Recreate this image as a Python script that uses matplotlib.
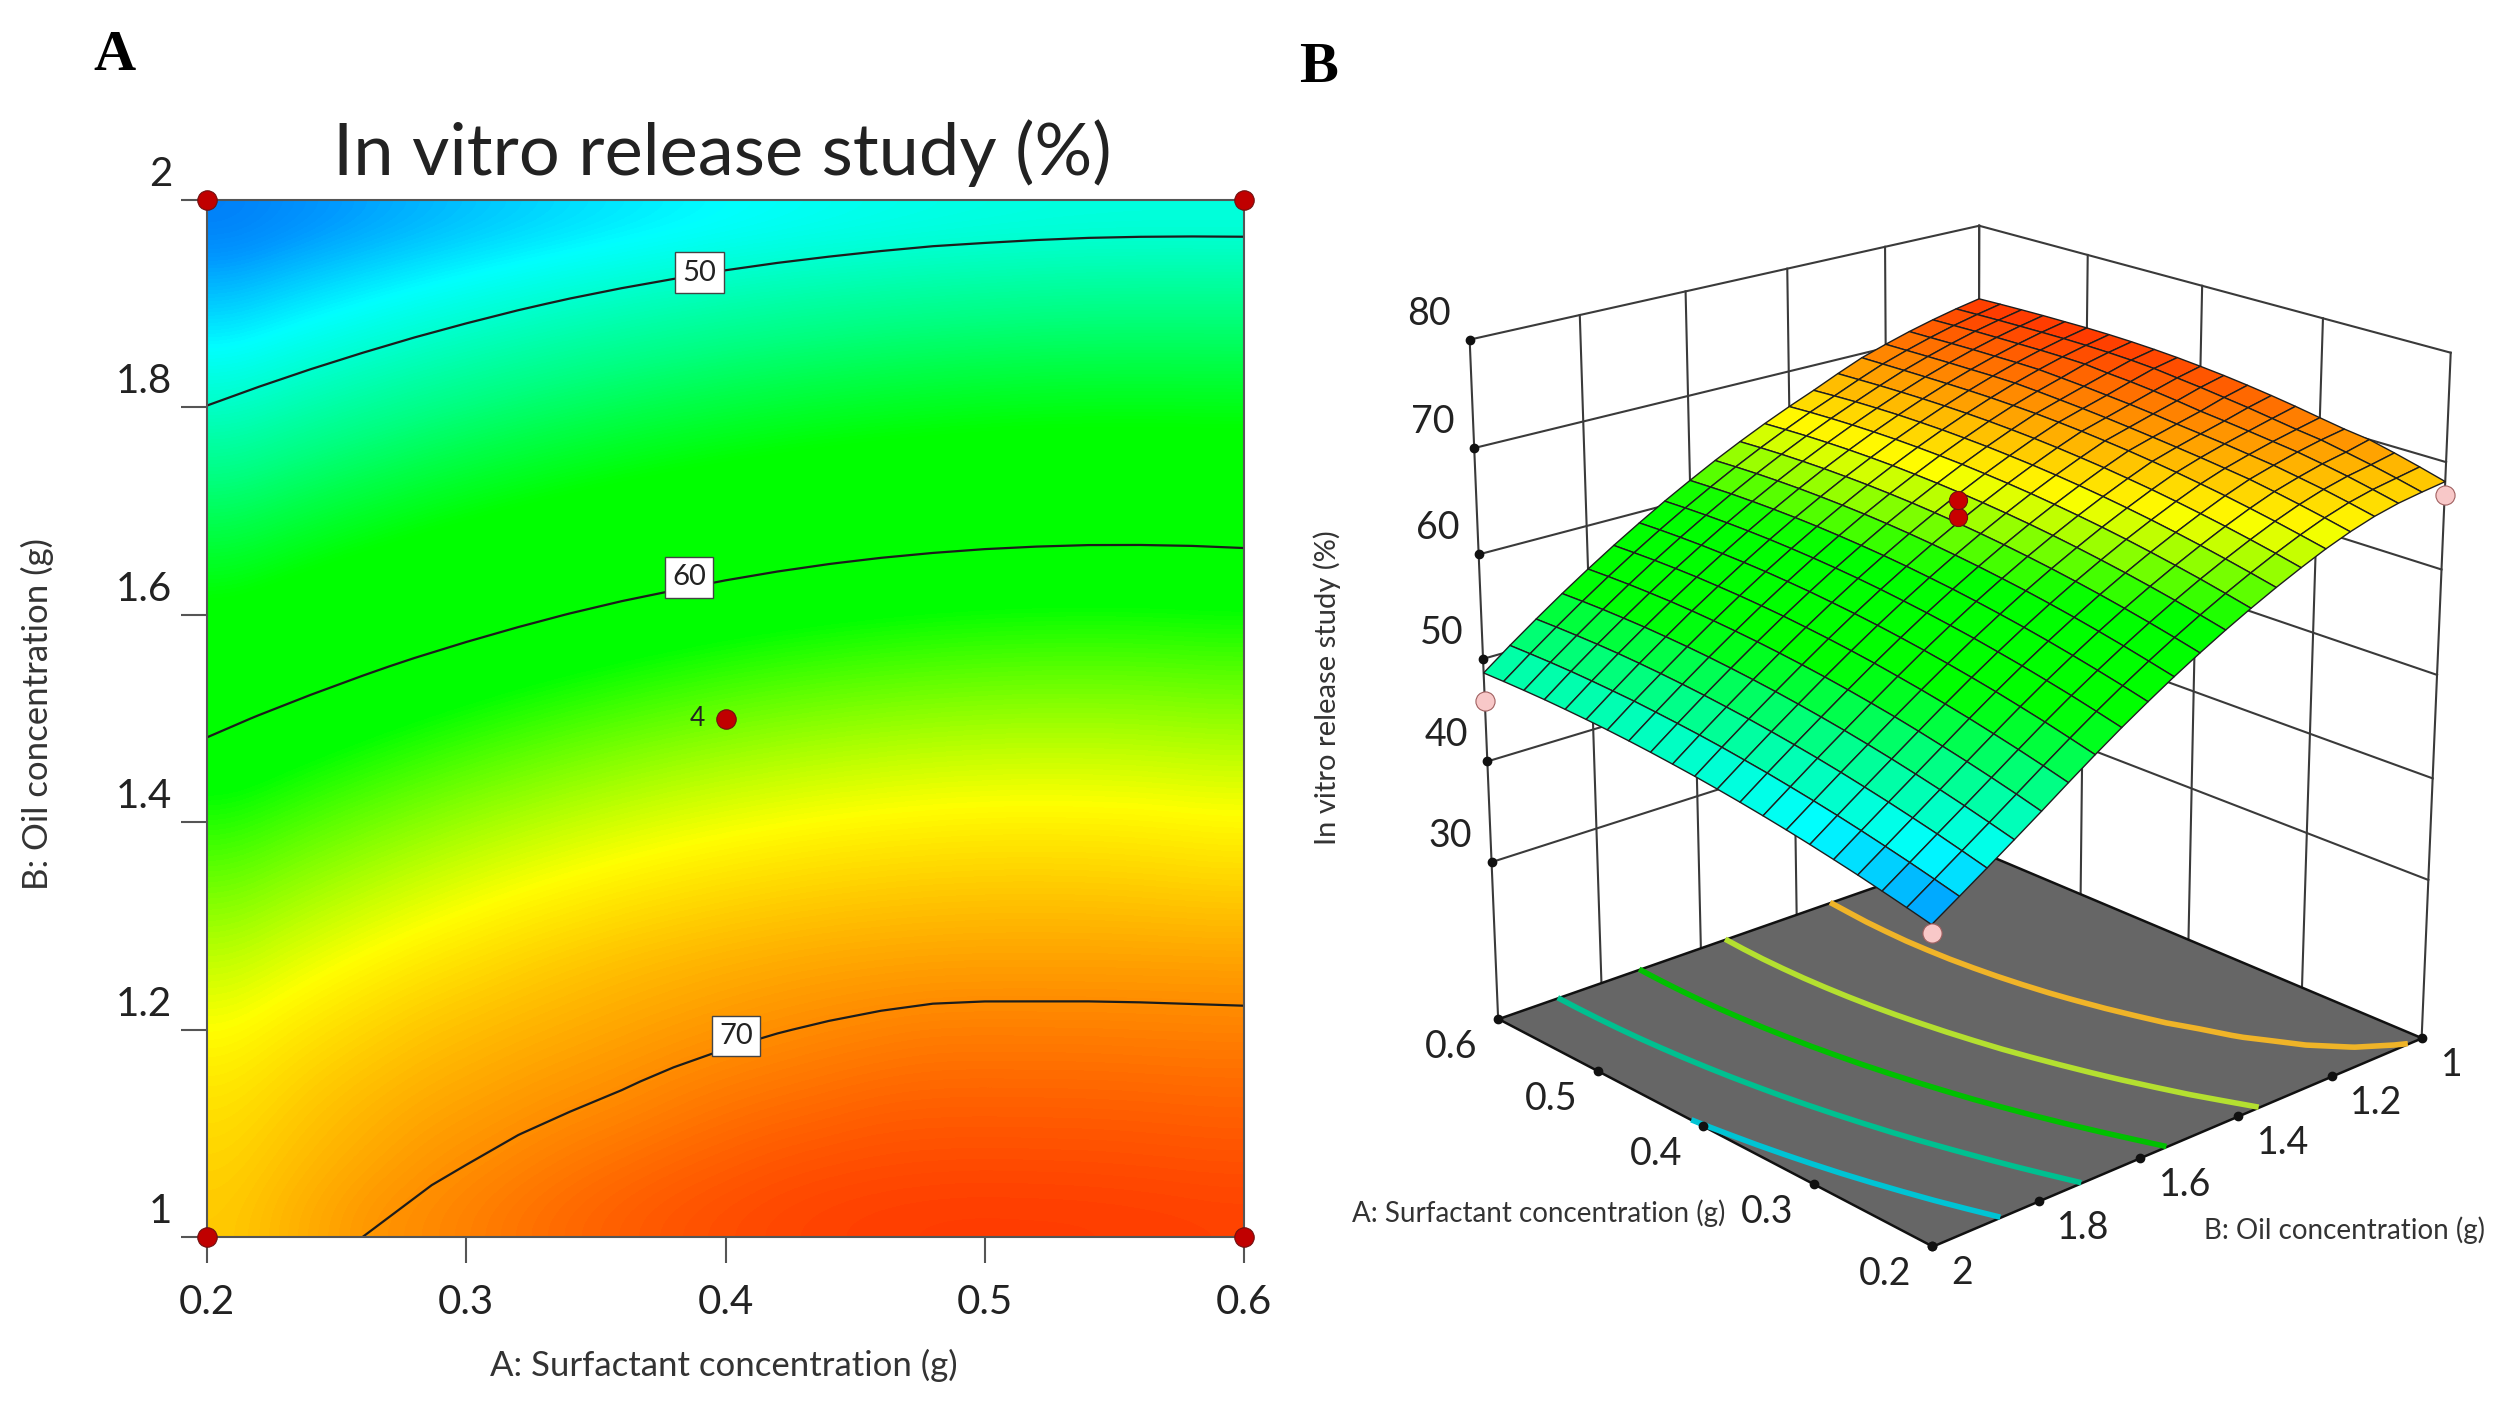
import numpy as np
import matplotlib
matplotlib.use('Agg')
import matplotlib.pyplot as plt
from matplotlib.colors import LinearSegmentedColormap, Normalize
from matplotlib.transforms import ScaledTranslation
from mpl_toolkits.mplot3d import proj3d
from mpl_toolkits.mplot3d.art3d import Poly3DCollection

plt.rcParams['font.family'] = ['Lato', 'DejaVu Sans']

W, H = 2510, 1411

surf_a = np.linspace(0.2, 0.6, 21)
surf_b = np.linspace(1.0, 2.0, 21)
# release (%), rows = oil 1..2, columns = surfactant 0.2..0.6
release = np.array([
    [68.20,68.85,69.45,70.00,70.30,70.69,71.09,71.45,71.77,72.05,72.28,72.48,72.63,72.74,72.81,72.84,72.83,72.82,72.78,72.73,72.66],
    [67.88,68.45,68.98,69.45,69.90,70.20,70.55,70.90,71.20,71.50,71.75,72.01,72.17,72.27,72.33,72.36,72.35,72.33,72.30,72.25,72.20],
    [67.51,68.05,68.56,69.00,69.40,69.69,69.98,70.25,70.50,70.82,71.10,71.33,71.50,71.72,71.78,71.80,71.79,71.78,71.76,71.71,71.66],
    [66.97,67.50,67.99,68.40,68.80,69.10,69.40,69.65,69.90,70.18,70.42,70.62,70.82,70.98,71.13,71.16,71.15,71.15,71.12,71.08,71.05],
    [66.24,66.77,67.26,67.72,68.14,68.45,68.75,69.02,69.28,69.52,69.75,69.95,70.12,70.28,70.41,70.44,70.43,70.43,70.41,70.38,70.35],
    [65.36,65.88,66.38,66.84,67.27,67.65,68.01,68.33,68.62,68.86,69.08,69.26,69.41,69.51,69.59,69.63,69.64,69.64,69.63,69.61,69.59],
    [64.34,64.88,65.38,65.85,66.28,66.68,67.05,67.37,67.67,67.92,68.15,68.34,68.49,68.61,68.69,68.74,68.76,68.75,68.72,68.66,68.60],
    [63.25,63.79,64.30,64.78,65.22,65.63,66.00,66.34,66.64,66.91,67.14,67.33,67.50,67.62,67.72,67.77,67.80,67.78,67.74,67.65,67.54],
    [62.08,62.63,63.16,63.64,64.09,64.51,64.89,65.23,65.54,65.82,66.06,66.26,66.44,66.57,66.67,66.74,66.77,66.76,66.72,66.65,66.54],
    [60.84,61.40,61.93,62.42,62.88,63.30,63.69,64.05,64.37,64.65,64.90,65.11,65.29,65.43,65.55,65.62,65.66,65.66,65.63,65.56,65.47],
    [59.52,60.09,60.63,61.13,61.60,62.03,62.43,62.79,63.12,63.41,63.67,63.89,64.08,64.23,64.35,64.43,64.48,64.49,64.47,64.41,64.32],
    [58.13,58.70,59.25,59.76,60.24,60.68,61.09,61.45,61.79,62.09,62.36,62.59,62.79,62.95,63.07,63.16,63.22,63.24,63.23,63.18,63.10],
    [56.65,57.24,57.79,58.31,58.80,59.25,59.66,60.04,60.39,60.69,60.97,61.21,61.41,61.58,61.72,61.82,61.88,61.91,61.91,61.86,61.79],
    [55.11,55.70,56.27,56.79,57.29,57.74,58.17,58.55,58.91,59.22,59.51,59.76,59.97,60.15,60.29,60.40,60.47,60.51,60.51,60.48,60.42],
    [53.48,54.08,54.66,55.19,55.70,56.16,56.59,56.99,57.35,57.68,57.97,58.22,58.45,58.63,58.79,58.90,58.98,59.03,59.04,59.02,58.96],
    [51.79,52.40,52.98,53.52,54.04,54.51,54.95,55.35,55.73,56.06,56.36,56.62,56.86,57.05,57.21,57.33,57.43,57.48,57.50,57.48,57.44],
    [50.06,50.68,51.26,51.81,52.32,52.81,53.26,53.66,54.04,54.38,54.68,54.95,55.19,55.39,55.56,55.70,55.80,55.85,55.88,55.87,55.83],
    [48.37,48.97,49.55,50.09,50.60,51.08,51.52,51.93,52.30,52.64,52.95,53.22,53.46,53.67,53.84,53.97,54.08,54.14,54.18,54.18,54.15],
    [46.70,47.29,47.86,48.38,48.88,49.34,49.78,50.18,50.54,50.87,51.18,51.44,51.68,51.88,52.05,52.19,52.30,52.37,52.40,52.41,52.39],
    [45.06,45.62,46.16,46.66,47.14,47.59,48.00,48.38,48.74,49.05,49.35,49.61,49.83,50.03,50.21,50.33,50.44,50.52,50.56,50.57,50.56],
    [43.44,43.97,44.47,44.95,45.39,45.81,46.20,46.56,46.89,47.19,47.47,47.71,47.93,48.12,48.28,48.41,48.51,48.59,48.63,48.65,48.64],
])

a_ticks = [0.2, 0.3, 0.4, 0.5, 0.6]
b_ticks = [1, 1.2, 1.4, 1.6, 1.8, 2]
z_ticks = [30, 40, 50, 60, 70, 80]
z_floor = 14.1

contour_levels = [50, 60, 70]
contour_label_a = [0.39, 0.386, 0.404]
contour_label_b = [1.93, 1.636, 1.194]

floor_levels = [47.6, 52.9, 58.2, 63.1, 68.0]
floor_colors = ['#00c4d4', '#00c090', '#00c000', '#b4e030', '#f0b428']

design_a = [0.2, 0.6, 0.2, 0.6]
design_b = [1, 1, 2, 2]
center_a, center_b = 0.4, 1.5

pink_a = [0.6, 0.2, 0.2]
pink_b = [2, 2, 1]
pink_z = [45.9, 42.7, 67.0]
red_z = [64.2, 65.8]

cmap_pos = [42, 44.5, 47.5, 52, 56, 61.5, 66.5, 72.9]
cmap_col = ['#0060f0', '#0098ff', '#00ffff', '#00ff80', '#00ff00', '#00ff00', '#ffff00', '#ff3c00']

norm = Normalize(42, 72.9)
cmap = LinearSegmentedColormap.from_list(
    'release', [((p - 42) / (72.9 - 42), c) for p, c in zip(cmap_pos, cmap_col)])


def fx(px):
    return px / W


def fy(py):
    return 1 - py / H


fig = plt.figure(figsize=(W / 100, H / 100), dpi=100)

# panel A
ax = fig.add_axes([fx(207), fy(1237), (1244 - 207) / W, (1237 - 200) / H])
ax.imshow(release, origin='lower', extent=[0.2, 0.6, 1, 2], aspect='auto',
          cmap=cmap, norm=norm, interpolation='bicubic')
ax.contour(surf_a, surf_b, release, levels=contour_levels, colors='#1c1c1c', linewidths=1.6)
for lev, la, lb in zip(contour_levels, contour_label_a, contour_label_b):
    ax.text(la, lb, str(lev), fontsize=21, color='#222222', ha='center', va='center',
            bbox=dict(boxstyle='square,pad=0.25', fc='white', ec='#444444', lw=1))
ax.set_xlim(0.2, 0.6)
ax.set_ylim(1, 2)
ax.set_xticks(a_ticks)
ax.set_xticklabels([str(v) for v in a_ticks])
ax.set_yticks(b_ticks)
ax.set_yticklabels([str(v) for v in b_ticks])
ax.tick_params(axis='both', length=19, width=1.5, color='#555555', labelsize=29, labelcolor='#222222')
ax.tick_params(axis='x', pad=15)
ax.tick_params(axis='y', pad=6)
for lab in ax.get_yticklabels():
    lab.set_va('bottom')
    lab.set_transform(lab.get_transform() + ScaledTranslation(0, 0.07, fig.dpi_scale_trans))
for sp in ax.spines.values():
    sp.set_color('#555555')
    sp.set_linewidth(1.5)
ax.plot(design_a, design_b, 'o', ms=14, color='#c00000', mec='#701010', mew=0.8,
        clip_on=False, zorder=5)
ax.plot([center_a], [center_b], 'o', ms=14, color='#c00000', mec='#701010', mew=0.8, zorder=5)
ax.annotate('4', (center_a, center_b), xytext=(-28, 0), textcoords='offset pixels',
            fontsize=19, color='#222222', ha='center', va='center')
fig.text(fx(722), fy(153), 'In vitro release study (%)', fontsize=52, color='#222222',
         ha='center', va='center')
fig.text(fx(724), fy(1365), 'A: Surfactant concentration (g)', fontsize=25, color='#333333',
         ha='center', va='center')
fig.text(fx(37), fy(714), 'B: Oil concentration (g)', fontsize=25, color='#333333',
         rotation=90, ha='center', va='center')
fig.text(fx(114), fy(56), 'A', fontsize=42, fontweight='bold', family='Liberation Serif',
         ha='center', va='center')
fig.text(fx(1319), fy(68), 'B', fontsize=42, fontweight='bold', family='Liberation Serif',
         ha='center', va='center')

# panel B
ax3 = fig.add_axes([fx(1290), fy(1365), 1300 / W, 1300 / H], projection='3d', computed_zorder=False)
ax3.set_proj_type('persp', focal_length=0.6)
ax3.view_init(elev=20.5, azim=137.8)
ax3.set_xlim(0.2, 0.6)
ax3.set_ylim(1, 2)
ax3.set_zlim(z_floor, 80)
ax3.set_box_aspect((1, 1, 1.08), zoom=0.895)
ax3.set_axis_off()
ax3.patch.set_alpha(0)

wall = dict(color='#3a3a3a', lw=1.5, zorder=1)
for z in z_ticks:
    ax3.plot([0.6, 0.6], [2, 1], [z, z], **wall)
    ax3.plot([0.6, 0.2], [1, 1], [z, z], **wall)
for b in b_ticks:
    ax3.plot([0.6, 0.6], [b, b], [z_floor, 80], **wall)
for a in a_ticks:
    ax3.plot([a, a], [1, 1], [z_floor, 80], **wall)

floor = Poly3DCollection([[(0.2, 1, z_floor), (0.6, 1, z_floor), (0.6, 2, z_floor), (0.2, 2, z_floor)]],
                         facecolor='#666666', edgecolor='#111111', linewidth=1.8, zorder=2)
ax3.add_collection3d(floor)
for lev, col in zip(floor_levels, floor_colors):
    ax3.contour(surf_a, surf_b, release, levels=[lev], zdir='z', offset=z_floor,
                colors=col, linewidths=4, zorder=3)

AA, BB = np.meshgrid(surf_a, surf_b)
ax3.plot_surface(AA, BB, release, facecolors=cmap(norm(release)), rstride=1, cstride=1,
                 edgecolor='#1e1e1e', linewidth=1.0, shade=False, antialiased=True, zorder=4)

ax3.scatter(pink_a, pink_b, pink_z, s=190, c='#f8c8c8', edgecolors='#a06060', linewidths=0.8,
            depthshade=False, zorder=6)
ax3.scatter([center_a] * 2, [center_b] * 2, red_z, s=170, c='#c80000', edgecolors='#701010',
            linewidths=0.8, depthshade=False, zorder=6)

dot = dict(color='#111111', ms=6, ls='none', marker='o', zorder=5)
ax3.plot([0.6] * len(z_ticks), [2] * len(z_ticks), z_ticks, **dot)
ax3.plot(a_ticks, [2] * len(a_ticks), [z_floor] * len(a_ticks), **dot)
ax3.plot([0.2] * len(b_ticks), b_ticks, [z_floor] * len(b_ticks), **dot)

M = ax3.get_proj()


def tick3d(x, y, z, s, dx, dy):
    px, py, _ = proj3d.proj_transform(x, y, z, M)
    ax3.annotate(s, (px, py), xytext=(dx, dy), textcoords='offset pixels', fontsize=27,
                 color='#222222', ha='center', va='center', annotation_clip=False)


for z in z_ticks:
    tick3d(0.6, 2, z, str(z), -41, 26)
for a in a_ticks:
    tick3d(a, 2, z_floor, str(a), -47, -28)
for b in b_ticks:
    tick3d(0.2, b, z_floor, str(b), 30 if b in (1, 2) else 45, -27)

fig.text(fx(1539), fy(1213), 'A: Surfactant concentration (g)', fontsize=20, color='#333333',
         ha='center', va='center')
fig.text(fx(2345), fy(1230), 'B: Oil concentration (g)', fontsize=20, color='#333333',
         ha='center', va='center')
fig.text(fx(1327), fy(688), 'In vitro release study (%)', fontsize=21, color='#333333',
         rotation=90, ha='center', va='center')

fig.savefig('out.png', dpi=100, facecolor='white')
